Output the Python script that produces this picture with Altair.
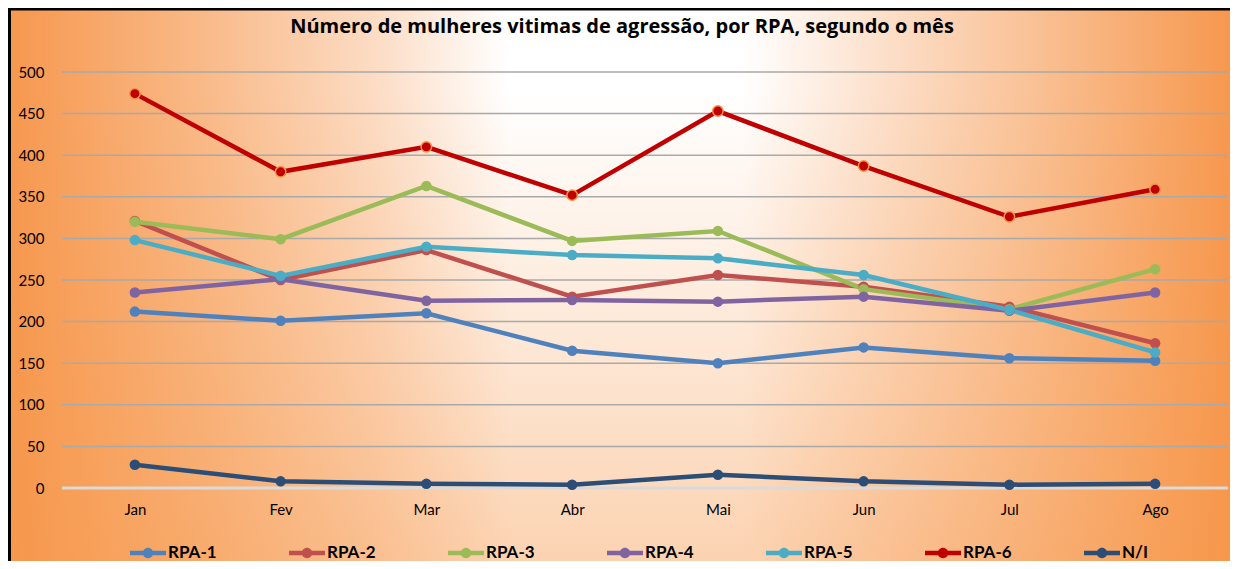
import altair as alt
import pandas as pd

meses = ["Jan", "Fev", "Mar", "Abr", "Mai", "Jun", "Jul", "Ago"]
series = ["RPA-1", "RPA-2", "RPA-3", "RPA-4", "RPA-5", "RPA-6", "N/I"]
rpa1 = [212, 201, 210, 165, 150, 169, 156, 153]
rpa2 = [321, 250, 286, 230, 256, 242, 218, 174]
rpa3 = [320, 299, 363, 297, 309, 239, 215, 263]
rpa4 = [235, 251, 225, 226, 224, 230, 213, 235]
rpa5 = [298, 255, 290, 280, 276, 256, 214, 163]
rpa6 = [474, 380, 410, 352, 453, 387, 326, 359]
ni = [28, 8, 5, 4, 16, 8, 4, 5]
cores = ["#4F81BD", "#C0504D", "#9BBB59", "#8064A2", "#4BACC6", "#C00000", "#2C4D75"]
y_ticks = list(range(0, 501, 50))
titulo = "Número de mulheres vitimas de agressão, por RPA, segundo o mês"

valores = [rpa1, rpa2, rpa3, rpa4, rpa5, rpa6, ni]
rows = []
for s, vals in zip(series, valores):
    for m, v in zip(meses, vals):
        rows.append({"mes": m, "serie": s, "valor": v})
df = pd.DataFrame(rows)
grid_df = pd.DataFrame({"valor": y_ticks})

W, H = 1166, 416
PL, PT, PR, PB = 54, 64, 2, 73
FONT = "Lato"

one = pd.DataFrame({"a": [0]})

bg_h = alt.Chart(one).mark_rect(
    fill={
        "gradient": "linear", "x1": 0, "y1": 0, "x2": 1, "y2": 0,
        "stops": [
            {"offset": 0.0, "color": "#F6984F"},
            {"offset": 0.17, "color": "#F9BC8C"},
            {"offset": 0.30, "color": "#FCDCC4"},
            {"offset": 0.41, "color": "#FFFFFF"},
            {"offset": 0.60, "color": "#FFFFFF"},
            {"offset": 0.73, "color": "#FCDCC4"},
            {"offset": 0.86, "color": "#F9BC8C"},
            {"offset": 1.0, "color": "#F6984F"},
        ],
    }
).encode(
    x=alt.value(-PL), x2=alt.value(W + PR),
    y=alt.value(-PT), y2=alt.value(H + PB),
)

bg_v = alt.Chart(one).mark_rect(
    fill={
        "gradient": "linear", "x1": 0, "y1": 0, "x2": 0, "y2": 1,
        "stops": [
            {"offset": 0.0, "color": "rgba(247,150,70,0)"},
            {"offset": 0.15, "color": "rgba(247,150,70,0)"},
            {"offset": 1.0, "color": "rgba(247,150,70,0.42)"},
        ],
    }
).encode(
    x=alt.value(-PL), x2=alt.value(W + PR),
    y=alt.value(-PT), y2=alt.value(H + PB),
)

border_top = alt.Chart(one).mark_rule(color="#000000", strokeWidth=3).encode(
    x=alt.value(-PL), x2=alt.value(W + PR), y=alt.value(-PT + 1)
)
border_left = alt.Chart(one).mark_rule(color="#000000", strokeWidth=3).encode(
    x=alt.value(-PL + 1.5), y=alt.value(-PT), y2=alt.value(H + PB)
)

x_enc = alt.X(
    "mes:N", sort=meses, title=None,
    scale=alt.Scale(type="point", padding=0.5),
    axis=alt.Axis(labelAngle=0, domain=False, ticks=False, labelPadding=14, zindex=1,
                  labelFontSize=15, labelFont=FONT, labelColor="#000000", grid=False),
)
y_scale = alt.Scale(domain=[0, 500], nice=False)
y_axis = alt.Axis(values=y_ticks, domain=False, ticks=False, labelPadding=18, zindex=1,
                  labelFontSize=15, labelFont=FONT, labelColor="#000000", grid=False)
y_enc = alt.Y("valor:Q", title=None, scale=y_scale, axis=y_axis)

grid = alt.Chart(grid_df).mark_rule().encode(
    y=y_enc,
    x=alt.value(0), x2=alt.value(W),
    color=alt.condition(alt.datum.valor == 0, alt.value("#DADADA"), alt.value("#A9A9A9")),
    strokeWidth=alt.condition(alt.datum.valor == 0, alt.value(3), alt.value(1.5)),
)

legend_path = "M-1,-0.12H1V0.12H-1Z M0.29,0A0.29,0.29 0 1,1 -0.29,0A0.29,0.29 0 1,1 0.29,0Z"
legend = alt.Legend(
    title=None, orient="none", direction="horizontal", columns=7,
    legendX=68, legendY=463, gridAlign="all", columnPadding=72, zindex=1,
    symbolType=legend_path, symbolSize=1296, symbolStrokeWidth=0,
    symbolOpacity=1, labelOffset=2,
    labelFont=FONT, labelFontSize=17, labelFontWeight="bold", labelColor="#000000",
)
color_enc = alt.Color("serie:N", sort=series, scale=alt.Scale(domain=series, range=cores),
                      legend=legend)

lines = alt.Chart(df).mark_line(strokeWidth=4.5).encode(x=x_enc, y=y_enc, color=color_enc)

points = alt.Chart(df).mark_circle(size=110, opacity=1).encode(x=x_enc, y=y_enc, color=color_enc)

rpa6_pts = alt.Chart(df).transform_filter(alt.datum.serie == "RPA-6").mark_circle(
    size=110, opacity=1, fill="#C00000", stroke="#F79646", strokeWidth=1.5
).encode(x=x_enc, y=y_enc)

chart = alt.layer(bg_h, bg_v, border_top, border_left, grid, lines, points, rpa6_pts).properties(
    width=W, height=H,
    padding={"left": PL, "top": PT, "right": PR, "bottom": PB},
    autosize=alt.AutoSizeParams(type="none"),
    title=alt.Title(titulo, font="Open Sans", fontSize=20, fontWeight="bold", color="#000000",
                    anchor="middle", baseline="alphabetic", offset=-46, dx=-23,
                    zindex=1),
).configure_view(strokeWidth=0).configure(background="white")

chart.save("out.html", embed_options={"renderer": "svg", "actions": False})
